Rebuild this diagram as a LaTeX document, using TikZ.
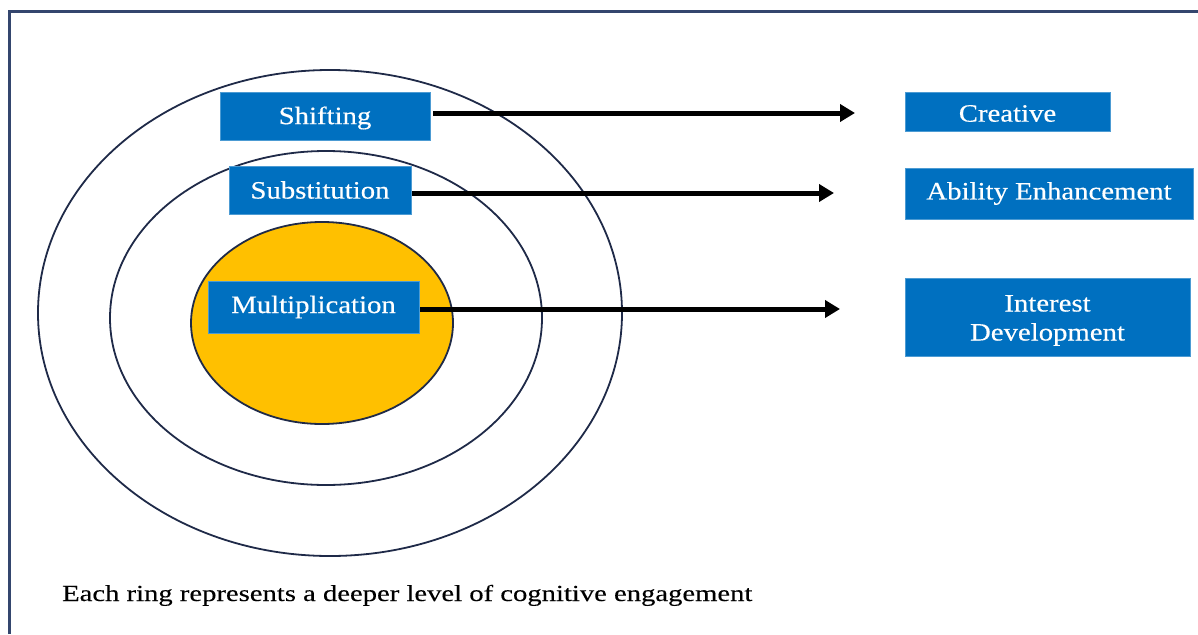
\documentclass[tikz,border=0pt]{standalone}
\usepackage{fontspec}
\setmainfont[FakeStretch=1.15,FakeBold=0.4]{Liberation Serif}
\newfontfamily\capfont[FakeStretch=1.245,FakeBold=0.3]{Liberation Serif}
\usetikzlibrary{arrows.meta}
\definecolor{boxblue}{HTML}{0070C0}
\definecolor{ringline}{HTML}{1F2A48}
\definecolor{framecol}{HTML}{34466E}
\definecolor{coreyellow}{HTML}{FFC000}
\newcommand\lowtxt[2]{\raisebox{-#1}[\height][\depth]{#2}}
\tikzset{
  bluebox/.style={fill=boxblue, draw=boxblue!70!white, line width=0.6pt, text=white, inner sep=0pt,
    font=\fontsize{25}{30}\selectfont, align=center},
  ring/.style={draw=ringline, line width=1.8pt},
  bigarrow/.style={draw=black, line width=5pt, -{Triangle[length=15pt,width=17pt]}},
}
\begin{document}
\begin{tikzpicture}[x=1pt,y=-1pt]
\useasboundingbox (0,0) rectangle (1198,634);
% frame
\draw[framecol, line width=3pt] (9,634) -- (9,12) -- (1198,12);
% rings
\draw[ring] (330,313) ellipse [x radius=292, y radius=243];
\draw[ring] (326,318) ellipse [x radius=216, y radius=167];
\draw[ring, fill=coreyellow] (322,323) ellipse [x radius=131, y radius=101];
% inner boxes
\node[bluebox, minimum width=210pt, minimum height=48pt] (shift) at (325,116) {\lowtxt{2pt}{Shifting}};
\node[bluebox, minimum width=182pt, minimum height=48pt] (subst) at (320,190) {Substitution};
\node[bluebox, minimum width=211pt, minimum height=52pt] (mult) at (313.5,307) {Multiplication};
% outcome boxes
\node[bluebox, minimum width=205pt, minimum height=39pt] (creat) at (1007.5,111.5) {\lowtxt{2pt}{Creative}};
\node[bluebox, minimum width=288pt, minimum height=51pt] (abil) at (1049,193.5) {Ability Enhancement};
\node[bluebox, minimum width=285pt, minimum height=78pt] (inter) at (1047.5,317)
  {\lowtxt{3pt}{\begin{tabular}{@{}c@{}}Interest\\[-1pt]Development\end{tabular}}};
% arrow ends
\coordinate (e1) at (855,113);
\coordinate (e2) at (834,193);
\coordinate (e3) at (840,309);
\draw[bigarrow] ([xshift=3pt]shift.east |- e1) -- (e1);
\draw[bigarrow] ([xshift=1pt]subst.east |- e2) -- (e2);
\draw[bigarrow] ([xshift=1pt]mult.east |- e3) -- (e3);
% caption
\node[anchor=base west, inner sep=0pt, font=\capfont\fontsize{23}{28}\selectfont] (cap) at (62,601) {Each ring represents a deeper level of cognitive engagement};
\end{tikzpicture}
\end{document}
